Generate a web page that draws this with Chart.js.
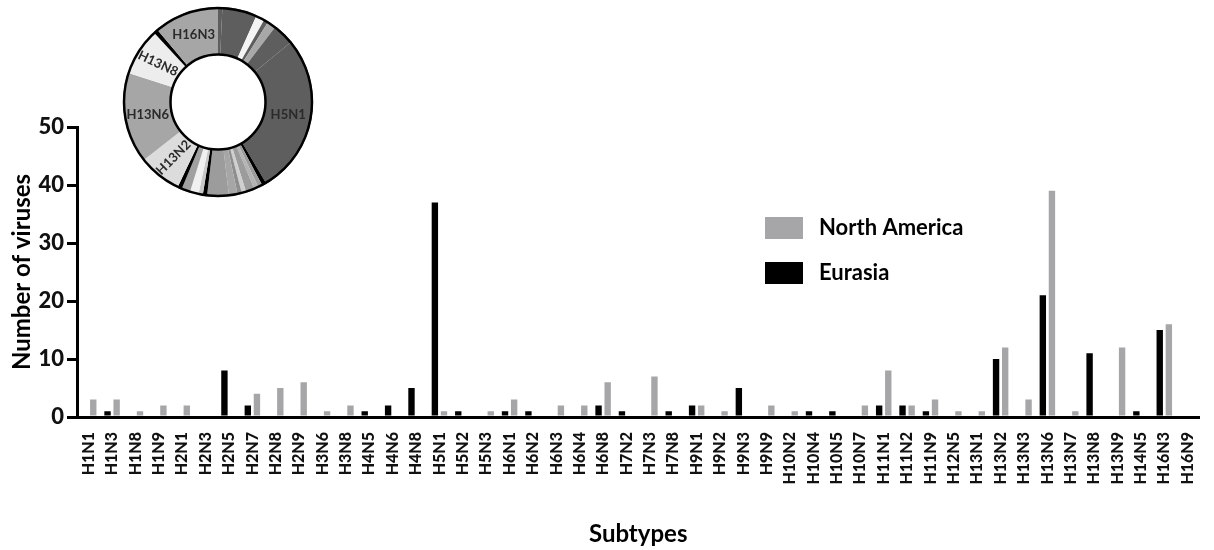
<!DOCTYPE html>
<html lang="en">
<head>
<meta charset="UTF-8">
<title>Subtypes</title>
<script src="https://cdn.jsdelivr.net/npm/chart.js"></script>
<style>
    body { margin: 0; background: #ffffff; }
    #wrap { position: relative; width: 1214px; height: 550px; }
    #chart { position: absolute; left: 0; top: 0; }
    #ring { position: absolute; left: 120px; top: 4px; }
</style>
</head>
<body>
<div id="wrap">
    <canvas id="chart" width="1214" height="550"></canvas>
    <canvas id="ring" width="196" height="196"></canvas>
</div>
<script>
const subtypes = ['H1N1','H1N3','H1N8','H1N9','H2N1','H2N3','H2N5','H2N7','H2N8','H2N9',
    'H3N6','H3N8','H4N5','H4N6','H4N8','H5N1','H5N2','H5N3','H6N1','H6N2',
    'H6N3','H6N4','H6N8','H7N2','H7N3','H7N8','H9N1','H9N2','H9N3','H9N9',
    'H10N2','H10N4','H10N5','H10N7','H11N1','H11N2','H11N9','H12N5','H13N1','H13N2',
    'H13N3','H13N6','H13N7','H13N8','H13N9','H14N5','H16N3','H16N9'];
const eurasia = [0,1,0,0,0,0,8,2,0,0, 0,0,1,2,5,37,1,0,1,1, 0,0,2,1,0,1,2,0,5,0,
    0,1,1,0,2,2,1,0,0,10, 0,21,0,11,0,1,15,0];
const northAmerica = [3,3,1,2,2,0,0,4,5,6, 1,2,0,0,0,1,0,1,3,0, 2,2,6,0,7,0,2,1,0,2,
    1,0,0,2,8,2,3,1,1,12, 3,39,1,0,12,0,16,0];
const yTicks = [0, 10, 20, 30, 40, 50];

// ring shows the Eurasian subtypes that occur at least once
const ringLabels = subtypes.filter((s, i) => eurasia[i] > 0);
const ringValues = eurasia.filter(v => v > 0);
const ringColors = ['#5e5e5e','#5e5e5e','#f4f4f4','#5e5e5e','#a8a8a8','#5e5e5e','#5e5e5e','#000000',
    '#9c9c9c','#b4b4b4','#9c9c9c','#cfcfcf','#8e8e8e','#a6a6a6','#9c9c9c','#000000','#c8c8c8',
    '#f0f0f0','#a0a0a0','#000000','#dcdcdc','#a6a6a6','#ededed','#000000','#a6a6a6'];
const ringTilt = { H13N8: 25, H13N2: -45 };

const FONT = 'Lato';

// legend drawn inside the plot, North America on top
const legendBox = {
    id: 'legendBox',
    afterDraw(chart) {
        const ctx = chart.ctx;
        ctx.save();
        ctx.font = 'bold 22px ' + FONT;
        ctx.textBaseline = 'middle';
        [1, 0].forEach((i, row) => {
            const ds = chart.data.datasets[i];
            const y = 217 + row * 45;
            ctx.fillStyle = ds.backgroundColor;
            ctx.fillRect(765, y, 38, 22);
            ctx.fillStyle = '#000';
            ctx.fillText(ds.label, 819, y + 11);
        });
        ctx.restore();
    }
};

new Chart(document.getElementById('chart'), {
    type: 'bar',
    data: {
        labels: subtypes,
        datasets: [
            { label: 'Eurasia', data: eurasia, backgroundColor: '#000000' },
            { label: 'North America', data: northAmerica, backgroundColor: '#a6a6a8' }
        ]
    },
    options: {
        responsive: false,
        animation: false,
        categoryPercentage: 0.78,
        barPercentage: 0.7,
        layout: { padding: { top: 127, right: 11, left: 0, bottom: 0 } },
        plugins: { legend: { display: false }, tooltip: { enabled: false } },
        scales: {
            x: {
                offset: true,
                grid: { display: false },
                border: { display: true, color: '#000', width: 3 },
                ticks: {
                    autoSkip: false, minRotation: 90, maxRotation: 90, padding: 7,
                    color: '#111', font: { family: FONT, weight: '900', size: 16 }
                },
                title: {
                    display: true, text: 'Subtypes', color: '#000',
                    font: { family: FONT, weight: 'bold', size: 24 },
                    padding: { top: 0, bottom: 1 }
                },
                afterFit(scale) { scale.height = 133; }
            },
            y: {
                min: 0, max: 50,
                afterBuildTicks(scale) { scale.ticks = yTicks.map(v => ({ value: v })); },
                ticks: { padding: 3, color: '#111', font: { family: FONT, weight: '900', size: 22 } },
                grid: { drawOnChartArea: false, drawTicks: true, tickLength: 10, color: '#000', lineWidth: 3 },
                border: { color: '#000', width: 3 },
                title: {
                    display: true, text: 'Number of viruses', color: '#000',
                    font: { family: FONT, weight: 'bold', size: 24 },
                    padding: { top: 8, bottom: 0 }
                },
                afterFit(scale) { scale.width = 77; }
            }
        }
    },
    plugins: [legendBox]
});

// black rims around the ring and names on the big slices
const ringDecor = {
    id: 'ringDecor',
    afterDatasetsDraw(chart) {
        const ctx = chart.ctx;
        const arcs = chart.getDatasetMeta(0).data;
        const a0 = arcs[0];
        ctx.save();
        ctx.strokeStyle = '#000';
        ctx.lineWidth = 2.5;
        ctx.beginPath();
        ctx.arc(a0.x, a0.y, a0.outerRadius - 1, 0, Math.PI * 2);
        ctx.stroke();
        ctx.beginPath();
        ctx.arc(a0.x, a0.y, a0.innerRadius, 0, Math.PI * 2);
        ctx.stroke();

        ctx.font = 'bold 13px ' + FONT;
        ctx.fillStyle = '#2a2a2a';
        ctx.textAlign = 'center';
        ctx.textBaseline = 'middle';
        arcs.forEach((arc, i) => {
            if (ringValues[i] < 10) return;
            const p = arc.tooltipPosition();
            const name = ringLabels[i];
            ctx.save();
            ctx.translate(p.x, p.y);
            ctx.rotate((ringTilt[name] || 0) * Math.PI / 180);
            ctx.fillText(name, 0, 0);
            ctx.restore();
        });
        ctx.restore();
    }
};

new Chart(document.getElementById('ring'), {
    type: 'doughnut',
    data: {
        labels: ringLabels,
        datasets: [{ data: ringValues, backgroundColor: ringColors, borderWidth: 0 }]
    },
    options: {
        responsive: false,
        animation: false,
        cutout: '50%',
        layout: { padding: 3 },
        plugins: { legend: { display: false }, tooltip: { enabled: false } }
    },
    plugins: [ringDecor]
});
</script>
</body>
</html>
